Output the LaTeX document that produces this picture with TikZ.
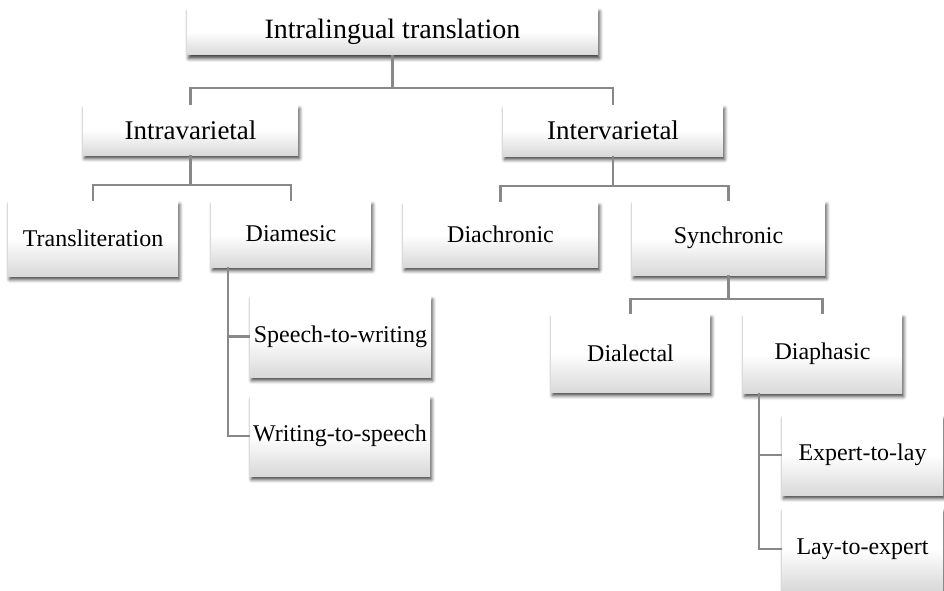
\documentclass[tikz,border=0pt]{standalone}
\usepackage{fontspec}
\setmainfont{Liberation Serif}
\usetikzlibrary{shadows.blur,calc}
\definecolor{linkgray}{RGB}{136,136,136}
\tikzset{
  box/.style={rectangle, inner sep=0pt, align=center,
    top color=white, bottom color=black!15, middle color=white,
    blur shadow={shadow xshift=1.5pt, shadow yshift=-3.5pt,
                 shadow blur radius=3.5pt, shadow opacity=75},
    font=\fontsize{24}{28}\selectfont},
  bigbox/.style={box, font=\fontsize{27}{31}\selectfont},
  rootbox/.style={box, font=\fontsize{28}{32}\selectfont},
  link/.style={draw=linkgray, line width=2.2pt}
}
\begin{document}
\begin{tikzpicture}[x=1pt,y=-1pt]
\useasboundingbox (0,0) rectangle (944,591);

% level 0 and 1
\node[rootbox, minimum width=411, minimum height=47] (root)  at (392.5,31.5) {Intralingual translation};
\node[bigbox, minimum width=215, minimum height=50] (intra) at (190.5,130)  {Intravarietal};
\node[bigbox, minimum width=220, minimum height=51] (inter) at (613,130.5)  {Intervarietal};

% level 2
\node[box, minimum width=170, minimum height=75] (translit) at (93,238.5)    {Transliteration};
\node[box, minimum width=160, minimum height=66] (diamesic) at (291,234)     {Diamesic};
\node[box, minimum width=195, minimum height=65] (diachron) at (500.5,234.5) {Diachronic};
\node[box, minimum width=193, minimum height=74] (synchron) at (728.5,238)   {Synchronic};

% level 3
\node[box, minimum width=181, minimum height=81] (speech)   at (340.5,336.5) {Speech-to-writing};
\node[box, minimum width=180, minimum height=80] (writing)  at (340,436)     {Writing-to-speech};
\node[box, minimum width=159, minimum height=78] (dialect)  at (630.5,353)   {Dialectal};
\node[box, minimum width=159, minimum height=79] (diaphas)  at (822.5,353.5) {Diaphasic};

% level 4
\node[box, minimum width=161, minimum height=80] (expert) at (862.5,455) {Expert-to-lay};
\node[box, minimum width=161, minimum height=82] (lay)    at (862.5,549) {Lay-to-expert};

% tree connectors
\draw[link] (root.south) -- ++(0,33) -| (intra.north);
\draw[link] (root.south) -- ++(0,33) -| (inter.north);

\draw[link] (intra.south) -- ++(0,30) -| (translit.north);
\draw[link] (intra.south) -- ++(0,30) -| (diamesic.north);

\draw[link] (inter.south) -- ++(0,30) -| (diachron.north);
\draw[link] (inter.south) -- ++(0,30) -| (synchron.north);

\draw[link] (synchron.south) -- ++(0,24) -| (dialect.north);
\draw[link] (synchron.south) -- ++(0,24) -| (diaphas.north);

% side branches
\coordinate (dmtap) at ($(diamesic.south west)+(17,0)$);
\draw[link] (dmtap) |- (speech.west);
\draw[link] (dmtap) |- (writing.west);

\coordinate (dptap) at ($(diaphas.south west)+(16,0)$);
\draw[link] (dptap) |- (expert.west);
\draw[link] (dptap) |- (lay.west);
\end{tikzpicture}
\end{document}
